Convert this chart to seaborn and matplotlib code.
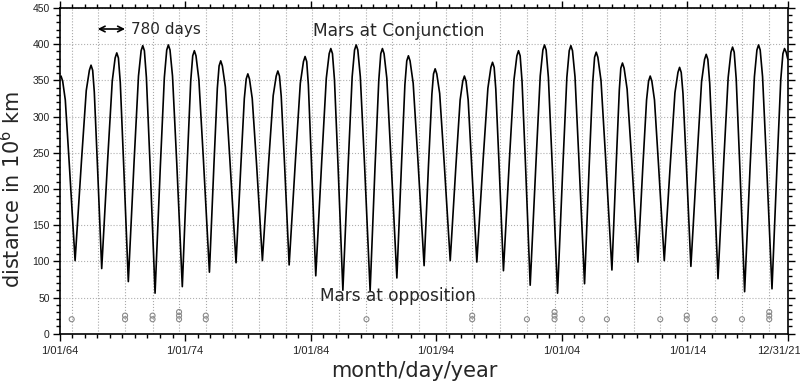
import matplotlib
matplotlib.use("Agg")
import matplotlib.pyplot as plt
import matplotlib.transforms as mtransforms
import seaborn as sns
import pandas as pd
from matplotlib.ticker import MultipleLocator

# Earth-Mars distance (decimal year, 10^6 km)
curve_year = [
    1964.00, 1964.12, 1964.25, 1964.46, 1964.79, 1965.24,
    1965.75, 1966.13, 1966.38, 1966.51, 1966.64, 1966.77, 1967.02, 1967.36,
    1967.84, 1968.20, 1968.43, 1968.56, 1968.69, 1968.84, 1969.11, 1969.48,
    1969.94, 1970.29, 1970.50, 1970.63, 1970.76, 1970.92, 1971.22, 1971.61,
    1972.03, 1972.35, 1972.54, 1972.67, 1972.80, 1973.00, 1973.34, 1973.78,
    1974.16, 1974.45, 1974.61, 1974.74, 1974.87, 1975.10, 1975.46, 1975.94,
    1976.30, 1976.57, 1976.71, 1976.84, 1976.97, 1977.21, 1977.57, 1978.06,
    1978.44, 1978.72, 1978.87, 1979.00, 1979.13, 1979.35, 1979.70, 1980.16,
    1980.65, 1981.02, 1981.26, 1981.39, 1981.52, 1981.66, 1981.93, 1982.29,
    1982.80, 1983.18, 1983.43, 1983.56, 1983.69, 1983.82, 1984.07, 1984.41,
    1984.89, 1985.25, 1985.48, 1985.61, 1985.74, 1985.90, 1986.19, 1986.57,
    1986.99, 1987.31, 1987.50, 1987.63, 1987.76, 1987.96, 1988.30, 1988.74,
    1989.13, 1989.43, 1989.59, 1989.72, 1989.85, 1990.07, 1990.41, 1990.87,
    1991.24, 1991.51, 1991.66, 1991.79, 1991.92, 1992.17, 1992.54, 1993.04,
    1993.39, 1993.66, 1993.79, 1993.92, 1994.05, 1994.28, 1994.64, 1995.12,
    1995.57, 1995.91, 1996.12, 1996.25, 1996.38, 1996.55, 1996.84, 1997.24,
    1997.74, 1998.12, 1998.36, 1998.49, 1998.62, 1998.75, 1999.01, 1999.36,
    1999.84, 2000.20, 2000.43, 2000.56, 2000.69, 2000.84, 2001.12, 2001.49,
    2001.95, 2002.29, 2002.50, 2002.63, 2002.76, 2002.94, 2003.25, 2003.67,
    2004.09, 2004.41, 2004.60, 2004.73, 2004.86, 2005.06, 2005.38, 2005.82,
    2006.19, 2006.47, 2006.62, 2006.75, 2006.88, 2007.13, 2007.50, 2008.00,
    2008.34, 2008.59, 2008.71, 2008.84, 2008.97, 2009.21, 2009.58, 2010.07,
    2010.46, 2010.76, 2010.92, 2011.05, 2011.18, 2011.39, 2011.72, 2012.17,
    2012.66, 2013.02, 2013.26, 2013.39, 2013.52, 2013.66, 2013.93, 2014.29,
    2014.78, 2015.14, 2015.38, 2015.51, 2015.64, 2015.79, 2016.07, 2016.45,
    2016.91, 2017.26, 2017.48, 2017.61, 2017.74, 2017.90, 2018.19, 2018.57,
    2019.01, 2019.35, 2019.55, 2019.68, 2019.81, 2020.00, 2020.32, 2020.75,
    2021.15, 2021.45, 2021.62, 2021.75, 2021.88, 2022.00,
]
curve_dist = [
    354, 356, 349, 323, 231, 101,
    239, 336, 364, 371, 364, 334, 233, 90,
    242, 349, 381, 388, 381, 347, 233, 72,
    238, 356, 391, 398, 391, 354, 230, 56,
    231, 354, 392, 399, 392, 356, 235, 65,
    231, 349, 384, 391, 384, 351, 241, 85,
    234, 339, 370, 377, 370, 341, 240, 98,
    231, 325, 352, 359, 352, 325, 233, 101,
    235, 329, 356, 363, 356, 328, 232, 95,
    242, 346, 376, 383, 376, 344, 235, 80,
    240, 353, 387, 394, 387, 351, 230, 60,
    233, 355, 392, 399, 392, 355, 232, 59,
    230, 350, 387, 394, 387, 353, 239, 77,
    234, 344, 377, 384, 377, 346, 242, 94,
    233, 331, 359, 366, 359, 332, 236, 101,
    231, 323, 349, 356, 349, 323, 230, 99,
    240, 339, 368, 375, 368, 338, 234, 87,
    242, 351, 384, 391, 384, 349, 232, 67,
    236, 356, 392, 399, 392, 354, 231, 56,
    230, 354, 391, 398, 391, 355, 237, 69,
    232, 347, 382, 389, 382, 350, 242, 88,
    234, 337, 367, 374, 367, 338, 239, 99,
    230, 323, 349, 356, 349, 323, 231, 101,
    237, 333, 361, 368, 361, 332, 233, 93,
    242, 348, 379, 386, 379, 346, 234, 76,
    239, 354, 389, 396, 389, 352, 230, 58,
    232, 355, 392, 399, 392, 355, 234, 62,
    231, 351, 387, 394, 389, 380,
]

# dotted verticals, spaced ~780 days
line_year = [1964.97, 1967.04, 1969.22, 1971.41, 1973.52, 1975.65, 1977.72,
             1979.86, 1982.03, 1984.12, 1986.23, 1988.45, 1990.52, 1992.61,
             1994.76, 1996.87, 1999.10, 2001.23, 2003.43, 2005.61, 2007.60,
             2009.72, 2011.85, 2013.96, 2016.18, 2018.36, 2020.53]

# small open circles near the bottom
circle_year = [1964.97, 1969.22, 1969.22, 1971.41, 1971.41, 1973.52, 1973.52,
               1973.52, 1975.65, 1975.65, 1988.45, 1996.87, 1996.87, 2001.23,
               2003.43, 2003.43, 2003.43, 2005.61, 2007.60, 2011.85, 2013.96,
               2013.96, 2016.18, 2018.36, 2020.53, 2020.53, 2020.53]
circle_dist = [20, 20, 25, 20, 25, 20, 25, 30, 20, 25, 20, 20, 25, 20,
               20, 25, 30, 20, 20, 20, 20, 25, 20, 20, 20, 25, 30]

tick_year = [1964, 1974, 1984, 1994, 2004, 2014, 2022]
tick_label = ['1/01/64', '1/01/74', '1/01/84', '1/01/94', '1/01/04',
              '1/01/14', '12/31/21']

sns.set_style("ticks")
plt.rcParams['font.family'] = ['DejaVu Sans']

df = pd.DataFrame({'year': curve_year, 'dist': curve_dist})
circ = pd.DataFrame({'year': circle_year, 'dist': circle_dist})

fig = plt.figure(figsize=(8, 3.87), dpi=100)
ax = fig.add_axes([0.0744, 0.1377, 0.9102, 0.8416])

for yr in line_year:
    ax.axvline(yr, ls=':', color='#a8a8a8', lw=0.8, zorder=1)
ax.grid(axis='y', ls=':', color='#b0b0b0', lw=0.8)

sns.lineplot(data=df, x='year', y='dist', color='black', lw=1.2,
             sort=False, estimator=None, ax=ax, zorder=3)
sns.scatterplot(data=circ, x='year', y='dist', marker='o', s=13,
                facecolor='none', edgecolor='#8a8a8a', linewidth=0.8,
                legend=False, ax=ax, zorder=2)

ax.set_xlim(1964, 2022)
ax.set_ylim(0, 450)
ax.set_xticks(tick_year)
ax.set_xticklabels(tick_label)
ax.xaxis.set_minor_locator(MultipleLocator(1))
ax.yaxis.set_major_locator(MultipleLocator(50))
ax.yaxis.set_minor_locator(MultipleLocator(10))
ax.tick_params(which='both', direction='out', top=True, right=True,
               width=1, color='black')
ax.tick_params(which='major', length=5)
ax.tick_params(which='minor', length=3)
ax.tick_params(axis='x', labelsize=8, pad=4, labelcolor='#222222')
ax.tick_params(axis='y', labelsize=7.5, pad=2, labelcolor='#222222')
for lbl in ax.get_xticklabels() + ax.get_yticklabels():
    lbl.set_fontfamily('Liberation Sans')
# last date label sits a bit left so it stays inside the figure
last = ax.get_xticklabels()[-1]
last.set_transform(last.get_transform() +
                   mtransforms.ScaledTranslation(-0.09, 0, fig.dpi_scale_trans))
for s in ax.spines.values():
    s.set_linewidth(1.2)
    s.set_color('black')

ax.set_xlabel('month/day/year', fontsize=15)
ax.set_ylabel('distance in 10$^6$ km', fontsize=15)
ax.xaxis.set_label_coords(0.4866, -0.085)
ax.yaxis.set_label_coords(-0.049, 0.441)

ax.annotate('', xy=(1967.04, 421), xytext=(1969.22, 421),
            arrowprops=dict(arrowstyle='<->', lw=1.2, color='black',
                            shrinkA=0, shrinkB=0))
ax.text(1969.70, 421, '780 days', fontsize=11, va='center', ha='left')
ax.text(1991.05, 418, 'Mars at Conjunction', fontsize=12.3,
        va='center', ha='center')
ax.text(1990.97, 52, 'Mars at opposition', fontsize=12.2,
        va='center', ha='center', zorder=4)

fig.savefig('out.png', dpi=100)
